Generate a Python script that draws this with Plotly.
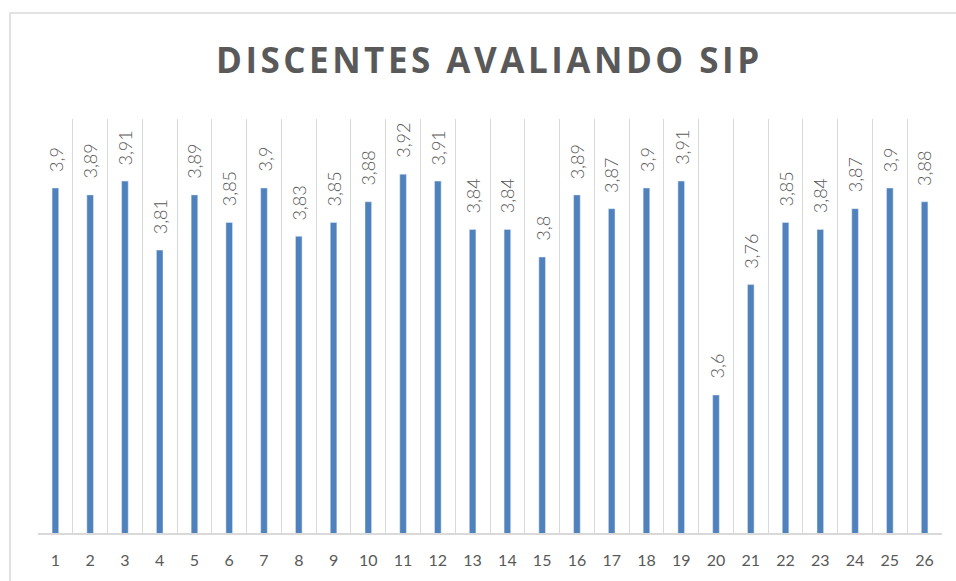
import plotly.graph_objects as go

categorias = [str(i) for i in range(1, 27)]
medias = [3.90, 3.89, 3.91, 3.81, 3.89, 3.85, 3.90, 3.83, 3.85, 3.88,
          3.92, 3.91, 3.84, 3.84, 3.80, 3.89, 3.87, 3.90, 3.91, 3.60,
          3.76, 3.85, 3.84, 3.87, 3.90, 3.88]
titulo = "DISCENTES AVALIANDO SIP"

rotulos = [f"{v:g}".replace(".", ",") for v in medias]
posicoes = list(range(1, len(categorias) + 1))
divisas = [p - 0.5 for p in posicoes] + [posicoes[-1] + 0.5]

cinza = "#595959"

fig = go.Figure()
fig.add_trace(go.Bar(
    x=posicoes, y=medias, width=0.19,
    marker_color="#4f81bd",
))

# data labels, rotated like Excel's
for p, v, r in zip(posicoes, medias, rotulos):
    fig.add_annotation(x=p, y=v, text=r, textangle=-90, showarrow=False,
                       xanchor="center", yanchor="bottom", yshift=14,
                       font=dict(family="Lato", size=18, color=cinza, weight=300))

fig.update_layout(
    width=956, height=581,
    margin=dict(l=38, r=14, t=119, b=48),
    paper_bgcolor="white", plot_bgcolor="white",
    showlegend=False,
    title=dict(text="<b>" + "\u200a".join(titulo) + "</b>", x=0.51, xanchor="center",
               y=0.895, yanchor="middle",
               font=dict(family="Open Sans", size=35, color=cinza)),
    xaxis=dict(range=[0.5, 26.5], tickvals=posicoes, ticktext=categorias,
               showgrid=False, zeroline=False,
               showline=True, linecolor="#d9d9d9", linewidth=1.5,
               tickfont=dict(family="Lato", size=16, color=cinza),
               ticks="", ticklabelstandoff=12,
               minor=dict(tickvals=divisas, showgrid=True, gridcolor="#d9d9d9",
                          gridwidth=1.3, ticks="")),
    yaxis=dict(range=[3.4, 4.0], visible=False),
)

fig.add_shape(type="rect", xref="paper", yref="paper",
              x0=-0.031, x1=1.06, y0=-0.3, y1=1.256,
              line=dict(color="#d9d9d9", width=1.5), layer="below")

fig.write_html("out.html", config={"displayModeBar": False},
               post_script="document.body.style.margin='0px';")
